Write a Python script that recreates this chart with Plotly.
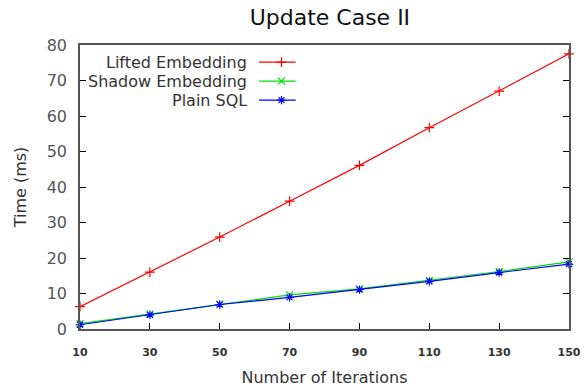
import plotly.graph_objects as go

iterations = [10, 30, 50, 70, 90, 110, 130, 150]
lifted = [6.3, 16.0, 25.9, 36.0, 46.1, 56.7, 67.0, 77.5]
shadow = [1.5, 4.2, 7.0, 9.6, 11.3, 13.7, 16.2, 18.9]
plain_sql = [1.2, 4.0, 6.9, 8.9, 11.1, 13.4, 15.9, 18.3]

series_names = ["Lifted Embedding", "Shadow Embedding", "Plain SQL"]
series_values = [lifted, shadow, plain_sql]
colors = ["#ff0000", "#00e000", "#0000ff"]
symbols = ["cross-thin", "x-thin", "asterisk"]

FONT = "DejaVu Sans"

fig = go.Figure()

for name, vals, col, sym in zip(series_names, series_values, colors, symbols):
    fig.add_trace(go.Scatter(
        x=iterations, y=vals, name=name, mode="lines+markers",
        line=dict(color=col, width=1.2),
        marker=dict(symbol=sym, size=7, color=col, line=dict(color=col, width=1.2)),
        cliponaxis=False, showlegend=False,
    ))

# gnuplot-style key: right-aligned labels followed by a line sample with marker
key_text_x = 0.345
key_x0, key_x1, key_mark = 0.366, 0.441, 0.412
key_rows = [0.940, 0.873, 0.806]
for name, col, sym, ky in zip(series_names, colors, symbols, key_rows):
    fig.add_trace(go.Scatter(
        x=[key_x0, key_x1], y=[ky, ky], mode="lines",
        line=dict(color=col, width=1.2), xaxis="x2", yaxis="y2",
        showlegend=False, hoverinfo="skip",
    ))
    fig.add_trace(go.Scatter(
        x=[key_mark], y=[ky], mode="markers",
        marker=dict(symbol=sym, size=7, color=col, line=dict(color=col, width=1.2)),
        xaxis="x2", yaxis="y2", showlegend=False, hoverinfo="skip",
    ))
    fig.add_annotation(
        x=key_text_x, y=ky, xref="paper", yref="paper", text=name,
        showarrow=False, xanchor="right", yanchor="middle",
        font=dict(family=FONT, size=16, color="#333333"),
    )

fig.update_layout(
    width=588, height=391,
    margin=dict(l=80, r=7, t=45, b=62),
    paper_bgcolor="white", plot_bgcolor="white",
    title=dict(text="Update Case II", x=0.561, xanchor="center", y=0.955, yanchor="middle",
               font=dict(family=FONT, size=22, color="#111111")),
    xaxis=dict(
        range=[10, 150], tickvals=iterations, ticktext=[str(v) for v in iterations],
        ticks="inside", ticklen=6, tickcolor="#000000", tickwidth=1,
        showline=True, linecolor="#555555", linewidth=1.5, mirror=True,
        showgrid=False, zeroline=False, ticklabeloverflow="allow",
        ticklabelstandoff=12,
        tickfont=dict(family=FONT, size=11, color="#333333", weight="bold"),
        title=dict(text="Number of Iterations", standoff=14,
                   font=dict(family=FONT, size=16, color="#333333")),
    ),
    yaxis=dict(
        range=[0, 80], tickvals=[0, 10, 20, 30, 40, 50, 60, 70, 80],
        ticks="inside", ticklen=6, tickcolor="#000000", tickwidth=1,
        showline=True, linecolor="#555555", linewidth=1.5, mirror="ticks",
        showgrid=False, zeroline=False, ticklabelstandoff=8,
        tickfont=dict(family=FONT, size=16, color="#555555"),
        title=dict(text="Time (ms)", standoff=16,
                   font=dict(family=FONT, size=16, color="#333333")),
    ),
    xaxis2=dict(range=[0, 1], overlaying="x", visible=False, fixedrange=True),
    yaxis2=dict(range=[0, 1], overlaying="y", visible=False, fixedrange=True),
)

fig.write_html("out.html")
